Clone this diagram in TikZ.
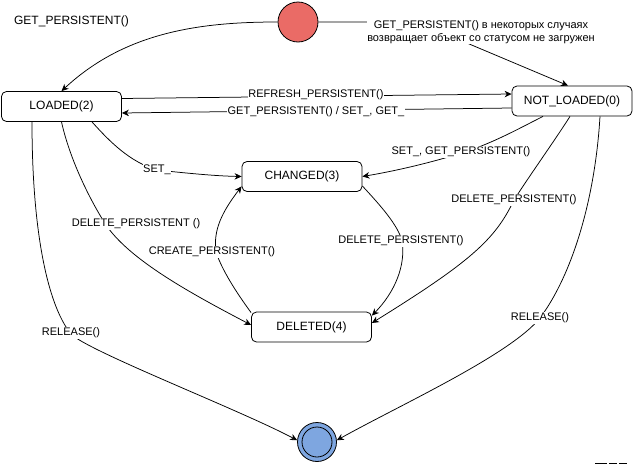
\documentclass[tikz,border=0pt]{standalone}
\usepackage{fontspec}
\setmainfont{Liberation Sans}
\usetikzlibrary{arrows.meta}
\definecolor{startred}{HTML}{EA6B66}
\definecolor{endblue}{HTML}{7EA6E0}
\begin{document}
\begin{tikzpicture}[x=1pt,y=-1pt,
  state/.style={draw, rounded corners=5pt, minimum width=120pt, minimum height=30pt, inner sep=0pt, font=\fontsize{12}{14}\selectfont, line width=0.8pt},
  lbl/.style={fill=white, inner sep=0.6pt, font=\fontsize{11}{12.5}\selectfont},
  edge/.style={draw, line width=0.75pt, -{Stealth[length=7pt,width=6.5pt,inset=2.2pt]}},
]
\useasboundingbox (0,0) rectangle (633,466);

% states
\node[circle, draw, line width=0.8pt, fill=startred, minimum size=40pt, inner sep=0pt] (start) at (298,22) {};
\node[state] (loaded) at (61.5,106.5) {LOADED(2)};
\node[state] (notloaded) at (572,101) {NOT\_LOADED(0)};
\node[state] (changed) at (302,176.5) {CHANGED(3)};
\node[state] (deleted) at (311.5,327) {DELETED(4)};
\node[circle, draw, line width=0.8pt, fill=endblue, minimum size=39pt, inner sep=0pt] (end) at (317,442) {};
\draw[line width=0.8pt] (end.center) circle[radius=15pt];

% free label
\node[font=\fontsize{12}{14}\selectfont] (lblget) at (71.5,21) {GET\_PERSISTENT()};

% edges
\draw[edge] (start.west) .. controls (200,22) and (125,32) .. (loaded.north);

\draw[edge] (start.east) -- (417,22) -- ([xshift=-4pt]notloaded.north)
  node[lbl, align=center] at (481,32) {GET\_PERSISTENT() в некоторых случаях\\возвращает объект со статусом не загружен};

\draw[edge] ([yshift=8pt]loaded.east) -- ([yshift=7pt]notloaded.west)
  node[lbl] at (316,95) {REFRESH\_PERSISTENT()};
\draw[edge] ([yshift=-7pt]notloaded.west) -- ([yshift=-6.5pt]loaded.east)
  node[lbl] at (316,112) {GET\_PERSISTENT() / SET\_, GET\_};

\draw[edge] ([xshift=30.5pt]loaded.south) .. controls (110,142) and (130,162) .. (157,170)
  .. controls (185,173) and (215,176) .. (changed.west)
  node[lbl] at (157,170) {SET\_};

\draw[edge] ([xshift=-29pt]notloaded.south) .. controls (520,128) and (495,142) .. (465,152)
  .. controls (430,163) and (395,171) .. (changed.east)
  node[lbl] at (461,152) {SET\_, GET\_PERSISTENT()};

\draw[edge] (loaded.south) .. controls (70,160) and (90,200) .. (106,225)
  .. controls (130,260) and (190,293) .. ([yshift=2pt]deleted.west)
  node[lbl] at (136,224) {DELETE\_PERSISTENT ()};

\draw[edge] ([yshift=-1pt]deleted.north west) .. controls (236,292) and (222,270) .. (216,252)
  .. controls (213,230) and (222,212) .. ([yshift=5.5pt]changed.south west)
  node[lbl] at (212,252) {CREATE\_PERSISTENT()};

\draw[edge] ([yshift=-9.5pt]changed.east) .. controls (380,205) and (398,225) .. (402,241)
  .. controls (406,265) and (395,292) .. ([yshift=-4pt]deleted.north east)
  node[lbl] at (401,241) {DELETE\_PERSISTENT()};

\draw[edge] ([xshift=-2pt]notloaded.south) .. controls (555,140) and (530,175) .. (514,200)
  .. controls (495,240) and (470,262) .. ([yshift=4pt]deleted.east)
  node[lbl] at (514,200) {DELETE\_PERSISTENT()};

\draw[edge] ([xshift=28pt]notloaded.south) .. controls (595,200) and (572,275) .. (540,318)
  .. controls (510,355) and (400,405) .. (end.5)
  node[lbl] at (540,318) {RELEASE()};

\draw[edge] ([xshift=-29.5pt]loaded.south) .. controls (32,240) and (50,310) .. (72,335)
  .. controls (95,354) and (240,410) .. (end.175)
  node[lbl] at (71,333) {RELEASE()};

% small mark bottom right
\fill (595,462.5) rectangle (607,464);
\fill (608.5,462.5) rectangle (617,464);
\fill (618.5,462.5) rectangle (627,464);
\end{tikzpicture}
\end{document}
